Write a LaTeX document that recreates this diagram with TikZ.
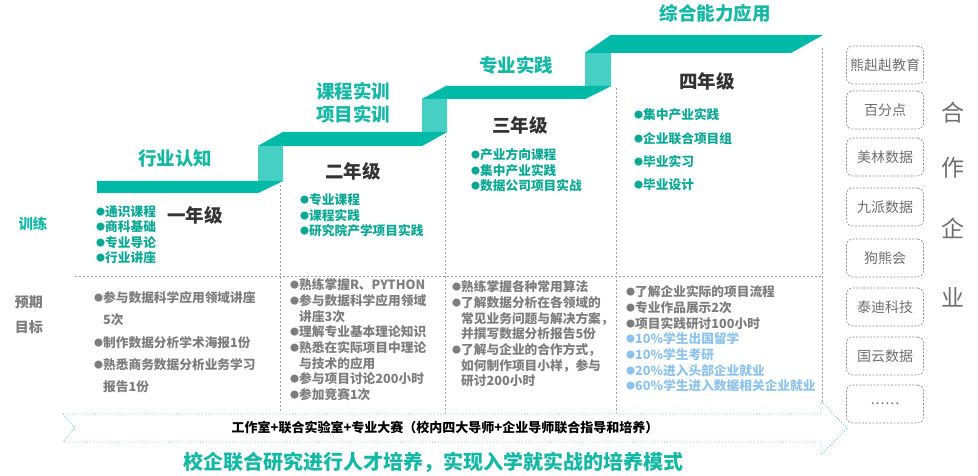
\documentclass[tikz,border=0pt]{standalone}
\usepackage{fontspec}
\setmainfont{Noto Sans CJK SC}
\definecolor{band}{RGB}{0,185,167}
\definecolor{riser}{RGB}{70,208,196}
\definecolor{headteal}{RGB}{20,184,164}
\definecolor{listteal}{RGB}{10,168,148}
\definecolor{darktext}{RGB}{51,51,51}
\definecolor{goalgray}{RGB}{125,125,125}
\definecolor{lightblue}{RGB}{141,195,236}
\definecolor{sepgray}{RGB}{160,160,160}
\definecolor{arrowteal}{RGB}{90,205,196}
\definecolor{boxgray}{RGB}{140,140,140}
\definecolor{namegray}{RGB}{110,110,110}
\newcommand{\bul}{\makebox[9pt][l]{\raisebox{1pt}{\fontsize{9}{9}\selectfont ●}}}
\newcommand{\sixdots}{.\kern1pt.\kern1pt.\kern1pt.\kern1pt.\kern1pt.}

\begin{document}
\begin{tikzpicture}[x=1pt, y=-1pt,
    stage/.style={font=\fontsize{18.5}{23}\selectfont\bfseries, text=headteal, inner sep=0pt},
    grade/.style={font=\fontsize{18.5}{23}\selectfont\bfseries, text=darktext, inner sep=0pt},
    train/.style={font=\fontsize{12.7}{15.5}\selectfont\bfseries, text=listteal, align=left, anchor=north west, inner sep=0pt},
    goal/.style={font=\fontsize{12.7}{15.7}\selectfont\bfseries, text=goalgray, align=left, anchor=north west, inner sep=0pt},
    sep/.style={draw=sepgray, dash pattern=on 2pt off 2pt, line width=0.7pt},
    partner/.style={draw=boxgray, dash pattern=on 2pt off 1.5pt, line width=0.6pt, rounded corners=6pt, minimum width=77pt, minimum height=38pt, font=\fontsize{14}{16}\selectfont, text=namegray, inner sep=0pt}]
    \useasboundingbox (0,0) rectangle (978,476);

    % 台阶立面
    \fill[riser] (258,146) -- (283,132) -- (283,181) -- (258,193) -- cycle;
    \fill[riser] (422,99) -- (447,85) -- (447,132) -- (422,146) -- cycle;
    \fill[riser] (585,53) -- (611,35) -- (611,86) -- (585,99) -- cycle;

    % 台阶横带
    \fill[band] (97,181) -- (283,181) -- (258,193) -- (97,193) -- cycle;
    \fill[band] (258,146) -- (283,132) -- (447,132) -- (422,146) -- cycle;
    \fill[band] (422,99) -- (447,86) -- (611,86) -- (585,99) -- cycle;
    \fill[band] (585,53) -- (611,35) -- (823,35) -- (791,53) -- cycle;

    % 分隔虚线
    \draw[sep] (280,185) -- (280,412);
    \draw[sep] (445,136) -- (445,413);
    \draw[sep] (616,88) -- (616,413);
    \draw[sep] (822,48) -- (822,401);
    \draw[sep] (75,276) -- (822,276);

    % 阶段标题
    \node[stage] (s1) at (175,158) {行业认知};
    \node[stage, align=center, font=\fontsize{18.5}{23}\selectfont\bfseries] (s2) at (353,103) {课程实训\\项目实训};
    \node[stage] (s3) at (516,65) {专业实践};
    \node[stage] (s4) at (715,13) {综合能力应用};

    % 年级
    \node[grade] (g1) at (195,215) {一年级};
    \node[grade] (g2) at (353,171) {二年级};
    \node[grade] (g3) at (520,125) {三年级};
    \node[grade] (g4) at (707,81) {四年级};

    % 左侧标签
    \node[font=\fontsize{14.5}{17}\selectfont\bfseries, text=headteal, inner sep=0pt] (lbtrain) at (33,224) {训练};
    \node[font=\fontsize{14}{25}\selectfont\bfseries, text=goalgray, align=center, inner sep=0pt] (lbgoal) at (29,315) {预期\\目标};

    % 训练内容
    \node[train] (t1) at (96,205.5) {\bul 通识课程\\\bul 商科基础\\\bul 专业导论\\\bul 行业讲座};
    \node[train] (t2) at (300,193.5) {\bul 专业课程\\\bul 课程实践\\\bul 研究院产学项目实践};
    \node[train] (t3) at (471,148.5) {\bul 产业方向课程\\\bul 集中产业实践\\\bul 数据公司项目实战};
    \node[train, font=\fontsize{12.7}{23.3}\selectfont\bfseries] (t4) at (634,108.5) {\bul 集中产业实践\\\bul 企业联合项目组\\\bul 毕业实习\\\bul 毕业设计};

    % 预期目标
    \node[goal, font=\fontsize{12.7}{22.2}\selectfont\bfseries] (o1) at (94,291.5) {\bul 参与数据科学应用领域讲座\\\hspace*{9pt}5次\\\bul 制作数据分析学术海报1份\\\bul 熟悉商务数据分析业务学习\\\hspace*{9pt}报告1份};
    \node[goal] (o2) at (290,278.5) {\bul 熟练掌握R、PYTHON\\\bul 参与数据科学应用领域\\\hspace*{9pt}讲座3次\\\bul 理解专业基本理论知识\\\bul 熟悉在实际项目中理论\\\hspace*{9pt}与技术的应用\\\bul 参与项目讨论200小时\\\bul 参加竞赛1次};
    \node[goal] (o3) at (452,280.5) {\bul 熟练掌握各种常用算法\\\bul 了解数据分析在各领域的\\\hspace*{9pt}常见业务问题与解决方案，\\\hspace*{9pt}并撰写数据分析报告5份\\\bul 了解与企业的合作方式，\\\hspace*{9pt}如何制作项目小样，参与\\\hspace*{9pt}研讨200小时};
    \node[goal] (o4) at (626,285.5) {\bul 了解企业实际的项目流程\\\bul 专业作品展示2次\\\bul 项目实践研讨100小时\\\textcolor{lightblue}{\bul 10\%学生出国留学}\\\textcolor{lightblue}{\bul 10\%学生考研}\\\textcolor{lightblue}{\bul 20\%进入头部企业就业}\\\textcolor{lightblue}{\bul 60\%学生进入数据相关企业就业}};

    % 底部箭头
    \draw[draw=arrowteal, dotted, line width=0.9pt] (63,414) -- (821,414) -- (821,401) -- (847,428) -- (821,455) -- (821,442) -- (63,442) -- (75,428) -- cycle;
    \node[font=\fontsize{13}{15}\selectfont\bfseries, text=black, inner sep=0pt] (base) at (445,428) {工作室+联合实验室+专业大赛（校内四大导师+企业导师联合指导和培养）};
    \node[font=\fontsize{20}{24}\selectfont\bfseries, text=headteal, inner sep=0pt] (motto) at (433,462) {校企联合研究进行人才培养，实现入学就实战的培养模式};

    % 合作企业
    \foreach \name/\y [count=\i] in {熊赳赳教育/65, 百分点/110, 美林数据/157, 九派数据/207, 狗熊会/258, 泰迪科技/307, 国云数据/356, \sixdots/404}
        \node[partner] (p\i) at (885,\y) {\name};
    \node[font=\fontsize{23}{26}\selectfont, text=namegray, inner sep=0pt] (he) at (953,113) {合};
    \node[font=\fontsize{23}{26}\selectfont, text=namegray, inner sep=0pt] (zuo) at (953,168) {作};
    \node[font=\fontsize{23}{26}\selectfont, text=namegray, inner sep=0pt] (qi) at (953,228) {企};
    \node[font=\fontsize{23}{26}\selectfont, text=namegray, inner sep=0pt] (ye) at (953,297) {业};
\end{tikzpicture}
\end{document}
